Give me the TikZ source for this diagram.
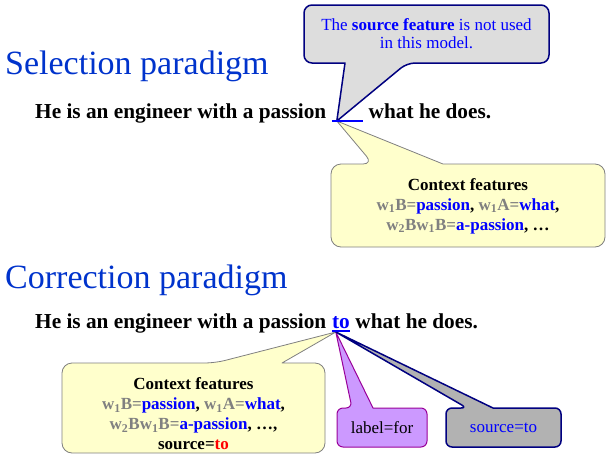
\documentclass[tikz,border=0pt]{standalone}
\usepackage{fontspec}
\setmainfont{Liberation Serif}
\usepackage{xcolor}

\definecolor{titleblue}{HTML}{0033CC}
\definecolor{wordblue}{HTML}{0000FF}
\definecolor{navy}{HTML}{000080}
\definecolor{notegray}{HTML}{DDDDDD}
\definecolor{paleyellow}{HTML}{FFFFCC}
\definecolor{featgray}{HTML}{808080}
\definecolor{lilac}{HTML}{CC99FF}
\definecolor{plum}{HTML}{990099}
\definecolor{midgray}{HTML}{B2B2B2}

\newcommand{\featname}[1]{\textcolor{featgray}{#1}}
\newcommand{\featval}[1]{\textcolor{wordblue}{#1}}

\tikzset{
  title/.style={anchor=base west,inner sep=0pt,text=titleblue,font=\fontsize{34}{40}\selectfont},
  sent/.style={anchor=base west,inner sep=0pt,font=\fontsize{21.3}{25}\selectfont\bfseries},
  boxtext/.style={align=center,inner sep=0pt,font=\fontsize{17}{20}\selectfont},
  notefill/.style={fill=notegray,draw=navy,line width=1.5pt,rounded corners=8pt},
  featfill/.style={fill=paleyellow,draw=featgray,line width=0.8pt,rounded corners=10pt},
  labfill/.style={fill=lilac,draw=plum,line width=1pt,rounded corners=6pt},
  srcfill/.style={fill=midgray,draw=navy,line width=1.5pt,rounded corners=6pt},
}

\begin{document}
\begin{tikzpicture}
  [x=1pt,y=-1pt,line join=round]
  \useasboundingbox (0,0) rectangle (606,456);

  \node[title] (sel) at (5,74) {Selection paradigm};
  \node[title] (corr) at (5,288) {Correction paradigm};

  % first sentence, with a blank
  \node[sent] (s1) at (35,118) {He is an engineer with a passion};
  \node[sent] (gap1) at ([xshift=5.3pt]s1.base east) {\hspace*{31pt}};
  \node[sent] (s1r) at ([xshift=5.3pt]gap1.base east) {what he does.};
  \coordinate (tip1) at ([xshift=5pt,yshift=-3pt]gap1.base west);

  % second sentence
  \node[sent] (s2) at (35,328) {He is an engineer with a passion};
  \node[sent,text=wordblue] (gap2) at ([xshift=5.3pt]s2.base east) {to};
  \node[sent] (s2r) at ([xshift=5.3pt]gap2.base east) {what he does.};
  \coordinate (tip2) at ([xshift=4pt,yshift=-4pt]gap2.base west);

  % balloons
  \draw[featfill] (331,164) -- (373,164) [sharp corners] -- (tip1) -- (443,164)
    [rounded corners=10pt] -- (605,164) -- (605,247) -- (331,247) -- cycle;
  \draw[notefill] (304,5) -- (549,5) -- (549,63) -- (407,63) [sharp corners]
    -- (tip1) -- (345,63) [rounded corners=8pt] -- (304,63) -- cycle;
  \draw[featfill] (62,363) -- (215,363) [sharp corners] -- (tip2) -- (282,363)
    [rounded corners=10pt] -- (325,363) -- (325,453) -- (62,453) -- cycle;
  \draw[labfill] (337,408) -- (352,408) [sharp corners] -- (tip2) -- (373,408)
    [rounded corners=6pt] -- (427,408) -- (427,447) -- (337,447) -- cycle;
  \draw[srcfill] (446,408) -- (467,408) [sharp corners] -- (tip2) -- (493,408)
    [rounded corners=6pt] -- (561,408) -- (561,447) -- (446,447) -- cycle;

  \draw[wordblue,line width=1.2pt] ([yshift=-3pt]gap1.base west) -- ([yshift=-3pt]gap1.base east);
  \draw[wordblue,line width=1.2pt] ([yshift=-3pt]gap2.base west) -- ([yshift=-3pt]gap2.base east);

  \node[boxtext,text=wordblue,font=\fontsize{17}{18}\selectfont] (note) at (426.5,34)
    {The \textbf{source feature} is not used\\in this model.};
  \node[boxtext,font=\fontsize{17}{20}\selectfont\bfseries] (feat1) at (468,206)
    {Context features\\
     \featname{w\textsubscript{1}B=}\featval{passion}, \featname{w\textsubscript{1}A=}\featval{what},\\
     \featname{w\textsubscript{2}Bw\textsubscript{1}B=}\featval{a-passion}, …};
  \node[boxtext,font=\fontsize{17}{20}\selectfont\bfseries] (feat2) at (193.5,414)
    {Context features\\
     \featname{w\textsubscript{1}B=}\featval{passion}, \featname{w\textsubscript{1}A=}\featval{what},\\
     \featname{w\textsubscript{2}Bw\textsubscript{1}B=}\featval{a-passion}, …,\\
     source=\textcolor{red}{to}};
  \node[boxtext] (lab) at (382,427.5) {label=for};
  \node[boxtext,text=wordblue] (src) at (503.5,427.5) {source=to};
\end{tikzpicture}
\end{document}
